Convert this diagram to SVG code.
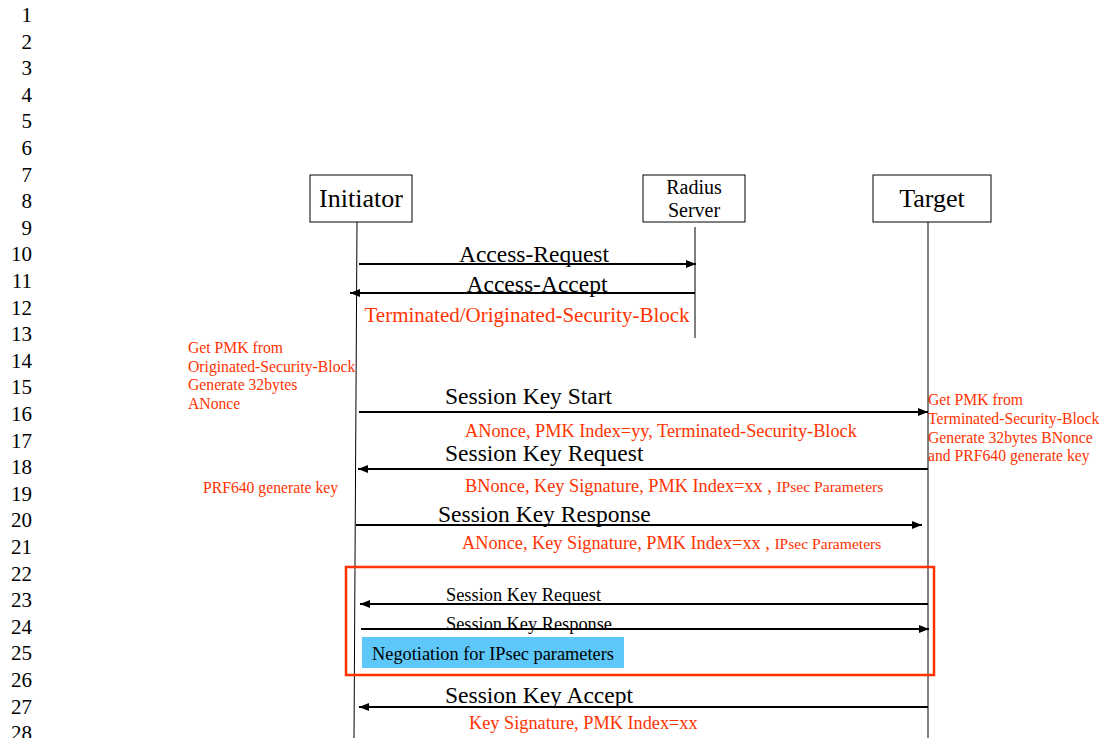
<svg xmlns="http://www.w3.org/2000/svg" width="1102" height="738" viewBox="0 0 1102 738">
<defs>
<marker id="ah" markerUnits="userSpaceOnUse" markerWidth="12" markerHeight="10" refX="10" refY="4" orient="auto">
<path d="M0,0 L10,4 L0,8 Z" fill="#000"/>
</marker>
<style>
text{font-family:"Liberation Serif","Times New Roman",serif;}
.num{font-size:21px;fill:#000;text-anchor:end;}
.box{fill:#fff;stroke:#000;stroke-width:1;}
.life{stroke:#000;stroke-width:1;fill:none;}
.msg{stroke:#000;stroke-width:2;fill:none;marker-end:url(#ah);}
.big{font-size:23.5px;fill:#000;}
.red{fill:#ff3300;}
.note{font-size:15.7px;fill:#ff3300;}
</style>
</defs>
<rect width="1102" height="738" fill="#fff"/>
<g id="line-numbers">
<text class="num" x="32" y="22">1</text>
<text class="num" x="32" y="48.6">2</text>
<text class="num" x="32" y="75.2">3</text>
<text class="num" x="32" y="101.8">4</text>
<text class="num" x="32" y="128.4">5</text>
<text class="num" x="32" y="155">6</text>
<text class="num" x="32" y="181.6">7</text>
<text class="num" x="32" y="208.2">8</text>
<text class="num" x="32" y="234.8">9</text>
<text class="num" x="32" y="261.4">10</text>
<text class="num" x="32" y="288">11</text>
<text class="num" x="32" y="314.6">12</text>
<text class="num" x="32" y="341.2">13</text>
<text class="num" x="32" y="367.8">14</text>
<text class="num" x="32" y="394.4">15</text>
<text class="num" x="32" y="421">16</text>
<text class="num" x="32" y="447.6">17</text>
<text class="num" x="32" y="474.2">18</text>
<text class="num" x="32" y="500.8">19</text>
<text class="num" x="32" y="527.4">20</text>
<text class="num" x="32" y="554">21</text>
<text class="num" x="32" y="580.6">22</text>
<text class="num" x="32" y="607.2">23</text>
<text class="num" x="32" y="633.8">24</text>
<text class="num" x="32" y="660.4">25</text>
<text class="num" x="32" y="687">26</text>
<text class="num" x="32" y="713.6">27</text>
<text class="num" x="32" y="740.2">28</text>
</g>
<g id="initiator">
<rect class="box" x="310" y="175" width="102" height="47"/>
<text x="361" y="207" font-size="26" text-anchor="middle">Initiator</text>
<line class="life" x1="357" y1="222" x2="354" y2="738"/>
</g>
<g id="radius-server">
<rect class="box" x="643" y="175" width="102" height="47"/>
<text x="694" y="194" font-size="20" text-anchor="middle">Radius</text>
<text x="694" y="217" font-size="20" text-anchor="middle">Server</text>
<line class="life" x1="695" y1="227" x2="695" y2="338"/>
</g>
<g id="target">
<rect class="box" x="873" y="175" width="118" height="47"/>
<text x="932" y="207" font-size="26" text-anchor="middle">Target</text>
<line class="life" x1="928" y1="222" x2="928" y2="738"/>
</g>
<g id="notes">
<text class="note" x="188" y="353">Get PMK from</text>
<text class="note" x="188" y="372">Originated-Security-Block</text>
<text class="note" x="188" y="390">Generate 32bytes</text>
<text class="note" x="188" y="409">ANonce</text>
<text class="note" x="203" y="493">PRF640 generate key</text>
<text class="note" x="928" y="405">Get PMK from</text>
<text class="note" x="928" y="424">Terminated-Security-Block</text>
<text class="note" x="928" y="443">Generate 32bytes BNonce</text>
<text class="note" x="928" y="461">and PRF640 generate key</text>
</g>
<g id="connectors">
<line class="msg" x1="359" y1="264" x2="696" y2="264"/>
<line class="msg" x1="695" y1="293" x2="350" y2="293"/>
<line class="msg" x1="359" y1="412" x2="928" y2="412"/>
<line class="msg" x1="928" y1="469" x2="358" y2="469"/>
<line class="msg" x1="356" y1="525" x2="922" y2="525"/>
<line class="msg" x1="928" y1="604" x2="360" y2="604"/>
<line class="msg" x1="361" y1="629" x2="929" y2="629"/>
<line class="msg" x1="928" y1="707" x2="359" y2="707"/>
</g>
<g id="labels">
<text class="big" x="534" y="262" text-anchor="middle">Access-Request</text>
<text class="big" x="537" y="292" text-anchor="middle">Access-Accept</text>
<text class="red" x="527" y="322" font-size="21" text-anchor="middle">Terminated/Originated-Security-Block</text>
<text class="big" x="445" y="404">Session Key Start</text>
<text class="red" x="465" y="437" font-size="18.3">ANonce, PMK Index=yy, Terminated-Security-Block</text>
<text class="big" x="445" y="461">Session Key Request</text>
<text class="red" x="465" y="492" font-size="18.3">BNonce, Key Signature, PMK Index=xx , <tspan font-size="15.6">IPsec Parameters</tspan></text>
<text class="big" x="438" y="522">Session Key Response</text>
<text class="red" x="462" y="549" font-size="18.3">ANonce, Key Signature, PMK Index=xx , <tspan font-size="15.6">IPsec  Parameters</tspan></text>
<text class="big" x="445" y="703">Session Key Accept</text>
<text class="red" x="469" y="729" font-size="18.3">Key Signature, PMK Index=xx</text>
</g>
<g id="negotiation">
<rect x="346" y="567" width="588" height="108" fill="none" stroke="#ff3300" stroke-width="2.5"/>
<text x="446" y="601" font-size="19" textLength="155" lengthAdjust="spacingAndGlyphs">Session Key Request</text>
<text x="446" y="630" font-size="19" textLength="166" lengthAdjust="spacingAndGlyphs">Session Key Response</text>
<rect x="362" y="637" width="262" height="31" fill="#5ec8fa"/>
<text x="372" y="660" font-size="18" textLength="242" lengthAdjust="spacingAndGlyphs">Negotiation for IPsec parameters</text>
</g>
</svg>
